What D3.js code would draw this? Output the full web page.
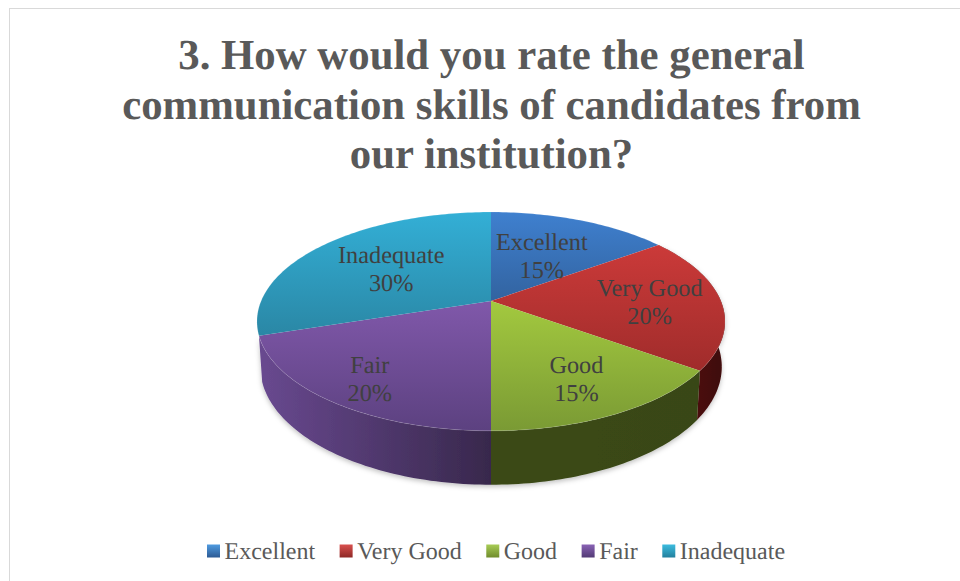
<!DOCTYPE html>
<html lang="en">
<head>
<meta charset="UTF-8">
<title>Communication skills pie</title>
<style>
    html, body { margin: 0; padding: 0; background: #fff; }
    svg { display: block; }
    text { font-family: "Liberation Serif", serif; text-rendering: geometricPrecision; }
</style>
</head>
<body>
<script src="https://cdnjs.cloudflare.com/ajax/libs/d3/7.8.5/d3.min.js"></script>
<script>
    var categories = ["Excellent", "Very Good", "Good", "Fair", "Inadequate"];
    var values = [15, 20, 15, 20, 30];
    var titleLines = ["3. How would you rate the general", "communication skills of candidates from", "our institution?"];

    var width = 960, height = 581;

    // light, dark, wall left, wall right for each slice
    var topLight = ["#3f80cf", "#cb3a39", "#a3c93f", "#8058aa", "#33afd6"];
    var topDark = ["#3263a0", "#a02c2b", "#7a9a34", "#5c4180", "#2a87a5"];
    var wallLeft = ["#24497a", "#5e1111", "#3b4a18", "#694990", "#1f6a82"];
    var wallRight = ["#24497a", "#3d0808", "#394617", "#38284c", "#1f6a82"];
    var legendLight = ["#4f9be0", "#d9504e", "#a8cc55", "#8a63b5", "#3cbcdf"];
    var legendDark = ["#2c5a94", "#8e2826", "#6f8c2c", "#523a75", "#23809d"];

    // how far out each label sits, as a share of the radius
    var labelRadius = [0.53, 0.69, 0.72, 0.79, 0.57];

    var cx = 491, apexY = 301;
    var rx = 229.9;         // x scale of the tilted disc
    var tilt = 0.187;       // perspective strength
    var yScale = -49.3;
    var depth = 43.8;       // wall height before perspective
    var wallNarrow = 0.986; // bottom rim is a little narrower

    // circle point -> tilted disc on screen
    function project(angle, r) {
        var u = Math.sin(angle) * r, v = Math.cos(angle) * r;
        var w = 1 + tilt * v;
        return [cx + rx * u / w, (yScale * v + apexY) / w];
    }
    function projectBottom(angle) {
        var p = project(angle, 1);
        var w = 1 + tilt * Math.cos(angle);
        return [cx + (p[0] - cx) * wallNarrow, p[1] + depth / w];
    }
    function sampleAngles(a0, a1) {
        var n = Math.max(2, Math.ceil((a1 - a0) / 0.02));
        return d3.range(n + 1).map(function(i) { return a0 + (a1 - a0) * i / n; });
    }

    var pie = d3.pie().sort(null).value(function(d) { return d; });
    var slices = pie(values);
    var line = d3.line();

    var color = d3.scaleOrdinal().domain(categories).range(topLight);

    var svg = d3.select("body").append("svg")
        .attr("width", width)
        .attr("height", height);

    var defs = svg.append("defs");

    categories.forEach(function(c, i) {
        var g = defs.append("linearGradient").attr("id", "top" + i)
            .attr("x1", 0).attr("y1", 0).attr("x2", 0).attr("y2", 1);
        g.append("stop").attr("offset", 0).attr("stop-color", color(c));
        g.append("stop").attr("offset", 1).attr("stop-color", topDark[i]);

        var w = defs.append("linearGradient").attr("id", "wall" + i)
            .attr("x1", 0).attr("y1", 0).attr("x2", 1).attr("y2", 0);
        w.append("stop").attr("offset", 0).attr("stop-color", wallLeft[i]);
        w.append("stop").attr("offset", 1).attr("stop-color", wallRight[i]);

        var m = defs.append("linearGradient").attr("id", "mark" + i)
            .attr("x1", 0).attr("y1", 0).attr("x2", 0).attr("y2", 1);
        m.append("stop").attr("offset", 0).attr("stop-color", legendLight[i]);
        m.append("stop").attr("offset", 1).attr("stop-color", legendDark[i]);
    });

    var shadow = defs.append("filter").attr("id", "shadow")
        .attr("x", "-10%").attr("y", "-10%").attr("width", "120%").attr("height", "130%");
    shadow.append("feDropShadow")
        .attr("dx", 0).attr("dy", 2).attr("stdDeviation", 2.5)
        .attr("flood-color", "#000").attr("flood-opacity", 0.25);

    // chart frame, runs off the picture on the right and bottom
    svg.append("rect")
        .attr("x", 9.5).attr("y", 8.5)
        .attr("width", width + 20).attr("height", height + 20)
        .attr("fill", "#fff")
        .attr("stroke", "#d9d9d9");

    // title
    svg.append("g").selectAll("text")
        .data(titleLines)
        .enter().append("text")
        .attr("x", cx + 0.5)
        .attr("y", function(d, i) { return 69 + i * 49.5; })
        .attr("text-anchor", "middle")
        .attr("font-size", 42.8)
        .attr("font-weight", "bold")
        .attr("fill", "#595959")
        .text(function(d) { return d; });

    // walls first, the back slices have none (Very Good sits right on the side, so not cos < 0)
    var walls = svg.append("g").attr("filter", "url(#shadow)");
    walls.selectAll("path")
        .data(slices.filter(function(d) { return Math.cos((d.startAngle + d.endAngle) / 2) < 0.1; }))
        .enter().append("path")
        .attr("fill", function(d) { return "url(#wall" + d.index + ")"; })
        .attr("d", function(d) {
            var a = sampleAngles(d.startAngle, d.endAngle);
            var upper = a.map(function(t) { return project(t, 1); });
            var lower = a.slice().reverse().map(projectBottom);
            return line(upper.concat(lower)) + "Z";
        });

    // top face
    svg.append("g").selectAll("path")
        .data(slices)
        .enter().append("path")
        .attr("fill", function(d, i) { return "url(#top" + i + ")"; })
        .attr("d", function(d) {
            var a = sampleAngles(d.startAngle, d.endAngle);
            var rim = a.map(function(t) { return project(t, 1); });
            return line([project(0, 0)].concat(rim)) + "Z";
        });

    // thin highlight where the top face meets the wall
    svg.append("g").selectAll("path")
        .data(slices)
        .enter().append("path")
        .attr("fill", "none")
        .attr("stroke", "#fff")
        .attr("stroke-opacity", 0.12)
        .attr("d", function(d) {
            return line(sampleAngles(d.startAngle, d.endAngle).map(function(t) { return project(t, 1); }));
        });

    // data labels
    var labels = svg.append("g").selectAll("g")
        .data(slices)
        .enter().append("g")
        .attr("transform", function(d, i) {
            var p = project((d.startAngle + d.endAngle) / 2, labelRadius[i]);
            return "translate(" + p[0] + "," + p[1] + ")";
        })
        .attr("text-anchor", "middle")
        .attr("font-size", 24.3)
        .attr("fill", "#404040");
    labels.append("text").attr("y", -5).text(function(d, i) { return categories[i]; });
    labels.append("text").attr("y", 23).text(function(d) { return d.value + "%"; });

    // legend, each entry placed after the width of the one before
    var legend = svg.append("g");
    var legendX = 207, legendY = 551, markSize = 13, markGap = 4.5, entryGap = 24.5;
    categories.forEach(function(c, i) {
        var entry = legend.append("g").attr("transform", "translate(" + legendX + ",0)");
        entry.append("rect")
            .attr("y", legendY - markSize / 2)
            .attr("width", markSize).attr("height", markSize)
            .attr("fill", "url(#mark" + i + ")");
        var t = entry.append("text")
            .attr("x", markSize + markGap)
            .attr("y", legendY + 7.5)
            .attr("font-size", 24)
            .attr("fill", "#595959")
            .text(c);
        legendX += markSize + markGap + t.node().getComputedTextLength() + entryGap;
    });
</script>
</body>
</html>
